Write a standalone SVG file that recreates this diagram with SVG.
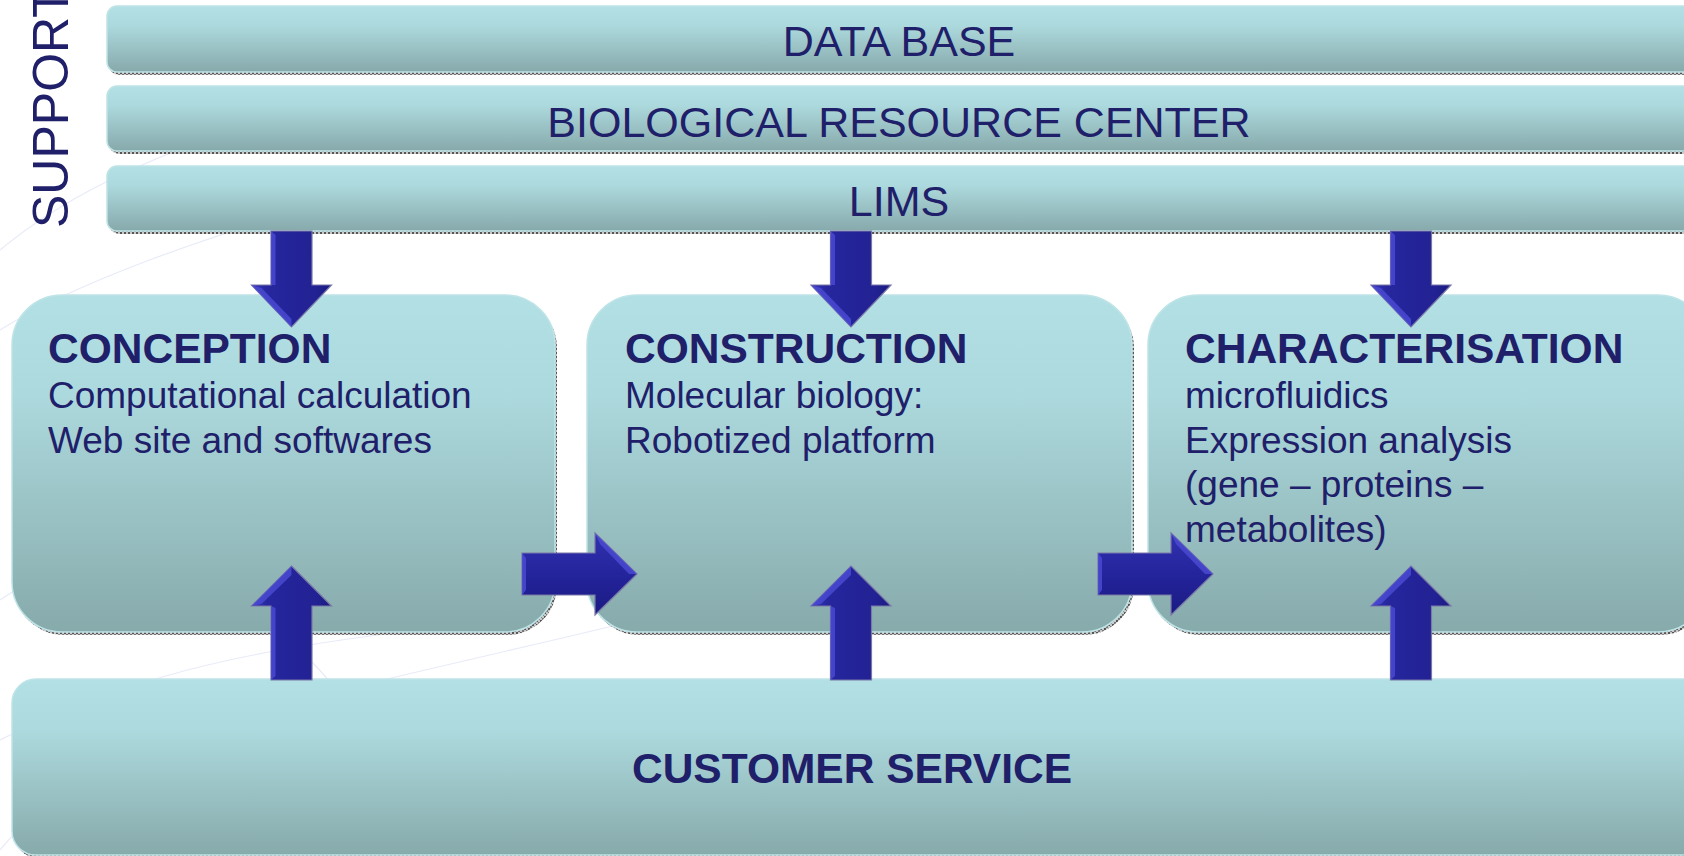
<svg xmlns="http://www.w3.org/2000/svg" width="1684" height="856" viewBox="0 0 1684 856">
<defs>
<linearGradient id="gBar" x1="0" y1="0" x2="0" y2="1">
<stop offset="0" stop-color="#b2e0e4"/>
<stop offset="0.3" stop-color="#acd9dd"/>
<stop offset="1" stop-color="#87a9ab"/>
</linearGradient>
<linearGradient id="gBox" x1="0" y1="0" x2="0" y2="1">
<stop offset="0" stop-color="#b2e0e4"/>
<stop offset="0.3" stop-color="#acd9dd"/>
<stop offset="1" stop-color="#87aaab"/>
</linearGradient>
<linearGradient id="gArrV" x1="0" y1="0" x2="1" y2="0">
<stop offset="0" stop-color="#3636b4"/>
<stop offset="0.2" stop-color="#26269e"/>
<stop offset="0.8" stop-color="#222294"/>
<stop offset="1" stop-color="#1a1a80"/>
</linearGradient>
<linearGradient id="gArrH" x1="0" y1="0" x2="0" y2="1">
<stop offset="0" stop-color="#3232b0"/>
<stop offset="0.5" stop-color="#24249c"/>
<stop offset="1" stop-color="#1a1a82"/>
</linearGradient>
<pattern id="shadowPat" width="4" height="4" patternUnits="userSpaceOnUse">
<rect width="4" height="4" fill="#c8c8c8"/>
<rect x="0" y="0" width="2" height="2" fill="#555"/>
<rect x="2" y="2" width="2" height="2" fill="#777"/>
</pattern>
<path id="arrDown" d="M-20.5,0 H20.5 V54 H40 L0,96 L-40,54 H-20.5 Z"/>
<path id="arrUp" d="M0,0 L40,40 H20.5 V114 H-20.5 V40 H-40 Z"/>
<path id="arrRight" d="M0,-21 H73 V-41 L115,0 L73,41 V21 H0 Z"/>
</defs>
<style>
.bar{fill:url(#gBar);stroke:#bfe4e7;stroke-width:1.5}
.box{fill:url(#gBox);stroke:#bfe4e7;stroke-width:1.5}
.shadow{fill:url(#shadowPat)}
.t{font-family:"Liberation Sans",Arial,sans-serif;fill:#20206a}
.title{font-size:43px}
.head{font-size:42.5px;font-weight:bold}
.body{font-size:37px}
.deco{fill:none;stroke:#e8ebf8;stroke-width:1.2}
.av{fill:url(#gArrV);stroke:#7a78a8;stroke-width:1.2}
.ah{fill:url(#gArrH);stroke:#7a78a8;stroke-width:1.2}
.hl{fill:#4a4ad2;opacity:0.85}
</style>
<rect width="1684" height="856" fill="#ffffff"/>
<g id="background-curves">
<path class="deco" d="M0,330 C80,280 200,240 330,200"/>
<path class="deco" d="M0,250 C60,200 140,160 260,120"/>
<path class="deco" d="M0,740 C120,680 240,650 420,630"/>
<path class="deco" d="M0,850 C40,800 120,760 200,720"/>
<path class="deco" d="M300,700 C420,670 560,640 720,600"/>
<path class="deco" d="M310,660 C330,680 345,700 350,720"/>
<path class="deco" d="M0,600 C60,560 140,520 230,480"/>
</g>
<g id="support-label">
<text class="t" font-size="50" transform="translate(68,228) rotate(-90)">SUPPORT</text>
</g>
<g id="database">
<rect class="shadow" x="109" y="9" width="1620" height="66" rx="10"/>
<rect class="bar" x="107" y="6" width="1620" height="66" rx="10"/>
<text class="t title" x="899" y="56" text-anchor="middle">DATA BASE</text>
</g>
<g id="brc">
<rect class="shadow" x="109" y="89" width="1620" height="65" rx="10"/>
<rect class="bar" x="107" y="86" width="1620" height="65" rx="10"/>
<text class="t title" x="899" y="137" text-anchor="middle">BIOLOGICAL RESOURCE CENTER</text>
</g>
<g id="lims">
<rect class="shadow" x="109" y="169" width="1620" height="65" rx="10"/>
<rect class="bar" x="107" y="166" width="1620" height="65" rx="10"/>
<text class="t title" x="899" y="216" text-anchor="middle">LIMS</text>
</g>
<g id="conception">
<rect class="shadow" x="14" y="298" width="543" height="337" rx="50"/>
<rect class="box" x="12" y="295" width="543" height="337" rx="50"/>
<text class="t head" x="48" y="363">CONCEPTION</text>
<text class="t body" x="48" y="408">Computational calculation</text>
<text class="t body" x="48" y="452.5">Web site and softwares</text>
</g>
<g id="construction">
<rect class="shadow" x="589" y="298" width="545" height="337" rx="50"/>
<rect class="box" x="587" y="295" width="545" height="337" rx="50"/>
<text class="t head" x="625" y="363">CONSTRUCTION</text>
<text class="t body" x="625" y="408">Molecular biology:</text>
<text class="t body" x="625" y="452.5">Robotized platform</text>
</g>
<g id="characterisation">
<rect class="shadow" x="1150" y="298" width="560" height="337" rx="50"/>
<rect class="box" x="1148" y="295" width="560" height="337" rx="50"/>
<text class="t head" x="1185" y="363">CHARACTERISATION</text>
<text class="t body" x="1185" y="408">microfluidics</text>
<text class="t body" x="1185" y="452.5">Expression analysis</text>
<text class="t body" x="1185" y="497">(gene – proteins –</text>
<text class="t body" x="1185" y="541.5">metabolites)</text>
</g>
<g id="customer-service">
<rect class="shadow" x="14" y="682" width="1700" height="176" rx="24"/>
<rect class="box" x="12" y="679" width="1700" height="176" rx="24"/>
<text class="t head" x="852" y="783" text-anchor="middle">CUSTOMER SERVICE</text>
</g>
<g id="connectors">
<g transform="translate(291.5,231)">
<use href="#arrDown" class="av"/>
<path class="hl" d="M-40,54 L-30,57 L0,88 L0,96 Z"/>
<path class="hl" d="M-20.5,0 L-16,4 V54 H-20.5 Z" opacity="0.6"/>
</g>
<g transform="translate(851,231)">
<use href="#arrDown" class="av"/>
<path class="hl" d="M-40,54 L-30,57 L0,88 L0,96 Z"/>
<path class="hl" d="M-20.5,0 L-16,4 V54 H-20.5 Z" opacity="0.6"/>
</g>
<g transform="translate(1411,231)">
<use href="#arrDown" class="av"/>
<path class="hl" d="M-40,54 L-30,57 L0,88 L0,96 Z"/>
<path class="hl" d="M-20.5,0 L-16,4 V54 H-20.5 Z" opacity="0.6"/>
</g>
<g transform="translate(291.5,566)">
<use href="#arrUp" class="av"/>
<path class="hl" d="M0,0 L0,9 L-30,38 L-40,40 Z"/>
<path class="hl" d="M-20.5,40 L-16,42 V110 L-20.5,114 Z" opacity="0.6"/>
</g>
<g transform="translate(851,566)">
<use href="#arrUp" class="av"/>
<path class="hl" d="M0,0 L0,9 L-30,38 L-40,40 Z"/>
<path class="hl" d="M-20.5,40 L-16,42 V110 L-20.5,114 Z" opacity="0.6"/>
</g>
<g transform="translate(1411,566)">
<use href="#arrUp" class="av"/>
<path class="hl" d="M0,0 L0,9 L-30,38 L-40,40 Z"/>
<path class="hl" d="M-20.5,40 L-16,42 V110 L-20.5,114 Z" opacity="0.6"/>
</g>
<g transform="translate(522,574)">
<use href="#arrRight" class="ah"/>
<path class="hl" d="M73,-41 L78,-30 L107,0 L115,0 Z"/>
<path class="hl" d="M0,-21 L4,-16 V16 L0,21 Z" opacity="0.7"/>
</g>
<g transform="translate(1098,574)">
<use href="#arrRight" class="ah"/>
<path class="hl" d="M73,-41 L78,-30 L107,0 L115,0 Z"/>
<path class="hl" d="M0,-21 L4,-16 V16 L0,21 Z" opacity="0.7"/>
</g>
</g>
</svg>
